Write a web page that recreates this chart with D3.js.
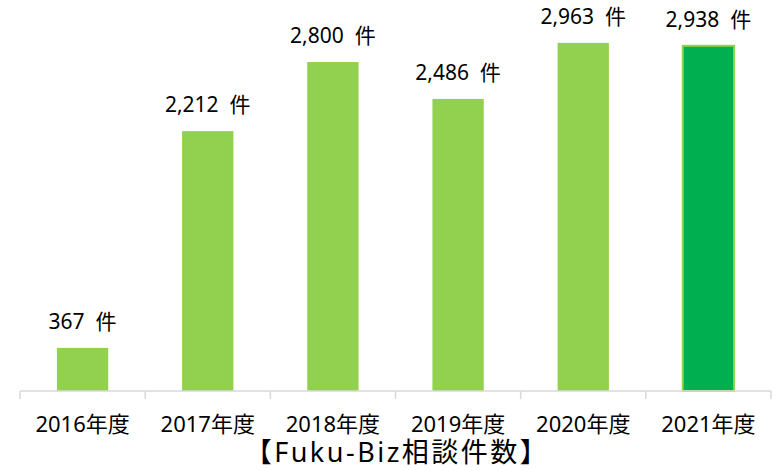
<!DOCTYPE html>
<html lang="ja">
<head>
    <meta charset="UTF-8">
    <title>Fuku-Biz相談件数</title>
    <script src="https://d3js.org/d3.v7.min.js"></script>
    <style>
        body { margin: 0; background: #fff; }
        text { font-family: "Noto Sans", "Noto Sans CJK JP", sans-serif; fill: #000; }
        .axis line { stroke: #d9d9d9; stroke-width: 1.5px; }
        .axis text { font-size: 22px; }
        .label { font-size: 21px; }
        .title { font-size: 27px; letter-spacing: 2.5px; }
    </style>
</head>
<body>
    <svg width="775" height="470"></svg>
    <script>
        // data
        const years = ["2016年度", "2017年度", "2018年度", "2019年度", "2020年度", "2021年度"];
        const counts = [367, 2212, 2800, 2486, 2963, 2938];
        const barColors = ["#92d050", "#92d050", "#92d050", "#92d050", "#92d050", "#00b050"];

        const svg = d3.select("svg");
        const left = 20, right = 771, base = 391;

        const x = d3.scaleBand()
            .domain(years)
            .range([left, right])
            .paddingInner(0.59)
            .paddingOuter(0.295);

        const y = d3.scaleLinear()
            .domain([0, 3328])
            .range([base, 0]);

        // bars
        svg.append("g")
            .selectAll("rect")
            .data(years)
            .enter().append("rect")
            .attr("x", d => x(d))
            .attr("y", (d, i) => y(counts[i]))
            .attr("width", x.bandwidth())
            .attr("height", (d, i) => base - y(counts[i]))
            .attr("fill", (d, i) => barColors[i])
            .attr("stroke", (d, i) => i === 5 ? "#92d050" : "none")
            .attr("stroke-width", 2);

        // value labels
        svg.append("g")
            .selectAll("text")
            .data(years)
            .enter().append("text")
            .attr("class", "label")
            .attr("x", d => x(d) + x.bandwidth() / 2)
            .attr("y", (d, i) => y(counts[i]) - 19)
            .attr("text-anchor", "middle")
            .attr("xml:space", "preserve")
            .text((d, i) => d3.format(",")(counts[i]) + "  件");

        // x axis, tick marks between categories
        const axis = svg.append("g").attr("class", "axis");
        axis.append("line")
            .attr("x1", left).attr("x2", right)
            .attr("y1", base).attr("y2", base);
        axis.selectAll(".tick")
            .data(years.concat([null]))
            .enter().append("line")
            .attr("x1", d => d ? x(d) - x.step() * x.paddingInner() / 2 : right)
            .attr("x2", d => d ? x(d) - x.step() * x.paddingInner() / 2 : right)
            .attr("y1", base)
            .attr("y2", base + 8);
        axis.selectAll(".cat")
            .data(years)
            .enter().append("text")
            .attr("x", d => x(d) + x.bandwidth() / 2)
            .attr("y", 432)
            .attr("text-anchor", "middle")
            .text(d => d);

        // title
        svg.append("text")
            .attr("class", "title")
            .attr("x", 397)
            .attr("y", 462)
            .attr("text-anchor", "middle")
            .text("【Fuku-Biz相談件数】");
    </script>
</body>
</html>
